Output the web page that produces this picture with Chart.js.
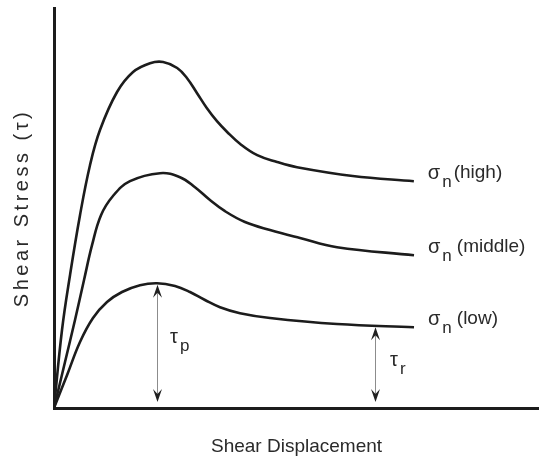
<!DOCTYPE html>
<html>
<head>
<meta charset="utf-8">
<title>Shear stress vs displacement</title>
<script src="https://cdn.jsdelivr.net/npm/chart.js@4/dist/chart.umd.min.js"></script>
<style>
  html, body { margin: 0; padding: 0; background: #fff; }
  canvas { display: block; }
</style>
</head>
<body>
<canvas id="shearChart" width="539" height="470"></canvas>
<script>
// Shear displacement (x) and shear stress (y) along each normal-stress curve
const highDisp     = [0, 1.65, 3.3, 5.36, 7.42, 9.48, 13.0, 16.3, 19.8, 22.5, 25.4, 27.4, 29.5, 31.5, 33.6, 35.7, 38.4, 41.9, 46.0, 50.1, 61.6, 74.2];
const highStress   = [0, 19.5, 33.2, 48.2, 60.7, 69.5, 79.0, 84.0, 86.2, 86.5, 85.0, 82.5, 78.7, 75.0, 71.7, 69.0, 66.0, 63.2, 61.5, 60.2, 58.0, 56.7];
const middleDisp   = [0, 2.27, 4.33, 6.19, 7.84, 9.69, 12.16, 15.67, 21.86, 25.98, 29.07, 32.16, 35.26, 39.38, 44.54, 50.72, 58.35, 74.23];
const middleStress = [0, 11.5, 22.0, 32.0, 40.7, 48.2, 53.0, 56.7, 58.7, 57.7, 55.2, 52.0, 49.2, 46.5, 44.5, 42.5, 40.2, 38.2];
const lowDisp      = [0, 2.68, 5.36, 8.04, 10.93, 14.02, 17.73, 21.24, 24.95, 28.04, 31.13, 34.23, 38.35, 44.54, 58.35, 74.23];
const lowStress    = [0, 8.2, 16.5, 22.5, 26.5, 29.0, 30.7, 31.2, 30.5, 29.0, 27.0, 25.2, 23.7, 22.5, 21.0, 20.2];

const curveNames = ['(high)', '(middle)', '(low)'];

// peak and residual strength markers on the low curve: [displacement, stress]
const tauPeak     = [21.2, 30.8];
const tauResidual = [66.2, 20.2];

const FONT = "'Liberation Sans', Arial, Helvetica, sans-serif";
const INK = '#1c1c1c';

function toPoints(xs, ys) {
  return xs.map((x, i) => ({ x: x, y: ys[i] }));
}

function curve(xs, ys) {
  return {
    data: toPoints(xs, ys),
    borderColor: INK,
    borderWidth: 2.6,
    pointRadius: 0,
    fill: false,
    tension: 0.4
  };
}

// barbed arrowhead with its tip at (x, y); dir = 1 points up, -1 points down
function arrowHead(ctx, x, y, dir) {
  ctx.beginPath();
  ctx.moveTo(x, y);
  ctx.lineTo(x + 4.5, y + dir * 13);
  ctx.lineTo(x, y + dir * 8);
  ctx.lineTo(x - 4.5, y + dir * 13);
  ctx.closePath();
  ctx.fill();
}

function doubleArrow(ctx, x, yTop, yBottom) {
  ctx.strokeStyle = '#8c8c8c';
  ctx.lineWidth = 1;
  ctx.beginPath();
  ctx.moveTo(x + 0.5, yTop + 6);
  ctx.lineTo(x + 0.5, yBottom - 6);
  ctx.stroke();
  ctx.fillStyle = '#202020';
  arrowHead(ctx, x + 0.5, yTop, 1);
  arrowHead(ctx, x + 0.5, yBottom, -1);
}

// Greek symbol with a lowered subscript, returns the x where it ends
function symbolWithSub(ctx, sym, sub, x, y) {
  ctx.font = '20px ' + FONT;
  ctx.textBaseline = 'middle';
  ctx.textAlign = 'left';
  ctx.fillText(sym, x, y);
  const w = ctx.measureText(sym).width;
  ctx.font = '17px ' + FONT;
  ctx.fillText(sub, x + w + 2, y + 9);
  return x + w + 2 + ctx.measureText(sub).width;
}

const annotations = {
  id: 'annotations',
  beforeDraw(chart) {
    // spaced-out lettering for the vertical axis title
    const ys = chart.scales.y;
    if (!ys._spaced) {
      const draw = ys.drawTitle;
      ys.drawTitle = function () {
        chart.ctx.save();
        chart.ctx.letterSpacing = '3.5px';
        draw.call(this);
        chart.ctx.restore();
      };
      ys._spaced = true;
    }
  },
  afterDatasetsDraw(chart) {
    const ctx = chart.ctx;
    const xs = chart.scales.x;
    const ys = chart.scales.y;
    ctx.save();
    ctx.fillStyle = '#2a2a2a';

    // sigma_n labels at the right-hand end of each curve
    chart.data.datasets.forEach((ds, i) => {
      const last = ds.data[ds.data.length - 1];
      const px = xs.getPixelForValue(last.x) + 14;
      const py = ys.getPixelForValue(last.y) - 8;
      ctx.fillStyle = '#2a2a2a';
      const end = symbolWithSub(ctx, 'σ', 'n', px, py);
      ctx.font = '19px ' + FONT;
      ctx.textBaseline = 'middle';
      ctx.fillText(curveNames[i], end + (i === 0 ? 2 : 5), py);
    });

    // peak and residual arrows
    const base = ys.getPixelForValue(0) - 6;
    const peakX = Math.round(xs.getPixelForValue(tauPeak[0]));
    const peakY = ys.getPixelForValue(tauPeak[1]);
    doubleArrow(ctx, peakX, peakY, base);
    ctx.fillStyle = '#2a2a2a';
    symbolWithSub(ctx, 'τ', 'p', peakX + 13, (peakY + base) / 2 - 6);

    const resX = Math.round(xs.getPixelForValue(tauResidual[0]));
    const resY = ys.getPixelForValue(tauResidual[1]);
    doubleArrow(ctx, resX, resY, base);
    ctx.fillStyle = '#2a2a2a';
    symbolWithSub(ctx, 'τ', 'r', resX + 15, (resY + base) / 2 - 4);

    ctx.restore();
  }
};

new Chart(document.getElementById('shearChart'), {
  type: 'line',
  data: {
    datasets: [
      curve(highDisp, highStress),
      curve(middleDisp, middleStress),
      curve(lowDisp, lowStress)
    ]
  },
  options: {
    responsive: false,
    animation: false,
    layout: { padding: { top: 8, right: 0, bottom: 0, left: 0 } },
    plugins: {
      legend: { display: false },
      tooltip: { enabled: false }
    },
    scales: {
      x: {
        type: 'linear',
        min: 0,
        max: 100,
        grid: { display: false },
        ticks: { display: false },
        border: { color: INK, width: 3 },
        title: {
          display: true,
          text: 'Shear Displacement',
          color: '#2a2a2a',
          font: { family: FONT, size: 19 },
          padding: { top: 0, bottom: 12 }
        },
        afterFit(scale) { scale.height = 62; }
      },
      y: {
        type: 'linear',
        min: 0,
        max: 100,
        grid: { display: false },
        ticks: { display: false },
        border: { color: INK, width: 3 },
        title: {
          display: true,
          text: 'Shear Stress (τ)',
          color: '#2a2a2a',
          font: { family: FONT, size: 20 },
          padding: { top: 10, bottom: 0 }
        },
        afterFit(scale) { scale.width = 54; }
      }
    }
  },
  plugins: [annotations]
});
</script>
</body>
</html>
